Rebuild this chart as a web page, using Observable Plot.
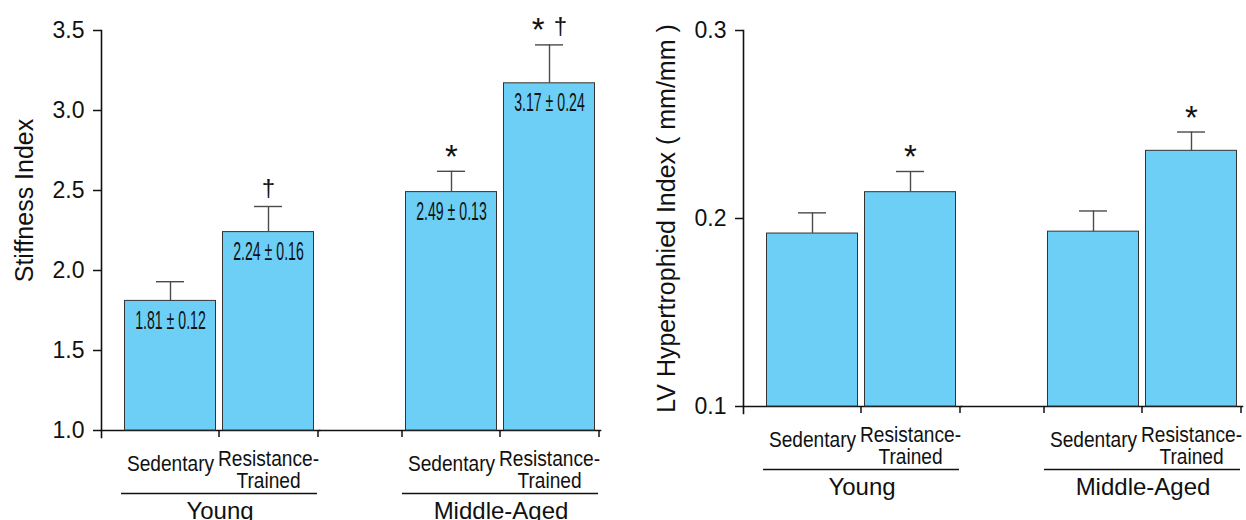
<!DOCTYPE html>
<html>
<head>
<meta charset="utf-8">
<script src="https://cdn.jsdelivr.net/npm/d3@7"></script>
<script src="https://cdn.jsdelivr.net/npm/@observablehq/plot@0.6"></script>
<style>
  html, body { margin: 0; padding: 0; background: #fff; }
  #charts { display: flex; width: 1246px; height: 520px; overflow: hidden; }
  #charts svg { flex: none; }
</style>
</head>
<body>
<div id="charts"></div>
<script>
// Groups and training conditions shared by both panels
const groups = ["Young", "Middle-Aged"];
const conditions = ["Sedentary", "Resistance-Trained"];
const conditionLabels = ["Sedentary", "Resistance-\nTrained"];

// Stiffness index: mean and SEM, listed group by group, condition by condition
const stiffnessMean = [1.81, 2.24, 2.49, 3.17];
const stiffnessSem = [0.12, 0.16, 0.13, 0.24];
const stiffnessNotes = ["", "†", "*", "* †"];
const stiffnessTicks = [1.0, 1.5, 2.0, 2.5, 3.0, 3.5];

// LV hypertrophied index (mm/mm): mean and SEM
const lvMean = [0.192, 0.214, 0.193, 0.236];
const lvSem = [0.011, 0.011, 0.011, 0.010];
const lvNotes = ["", "*", "", "*"];
const lvTicks = [0.1, 0.2, 0.3];

// Which band edges get a tick on the category axis
const axisTicks = [
  {group: "Young", condition: "Resistance-Trained", edge: "start"},
  {group: "Young", condition: "Resistance-Trained", edge: "end"},
  {group: "Middle-Aged", condition: "Sedentary", edge: "start"},
  {group: "Middle-Aged", condition: "Resistance-Trained", edge: "start"},
  {group: "Middle-Aged", condition: "Resistance-Trained", edge: "end"}
];

const SVG_NS = "http://www.w3.org/2000/svg";
const halfStep = 49.5;   // half of one condition band
const facetGap = 63;     // space between the two group facets

function panel({mean, sem, notes, ticks, title, titleDy, showValues, marginLeft, marginRight, marginBottom}) {
  const rows = [];
  groups.forEach((group, gi) => conditions.forEach((condition, ci) => {
    const i = gi * conditions.length + ci;
    rows.push({group, condition, mean: mean[i], sem: sem[i], note: notes[i],
               label: conditionLabels[ci]});
  }));
  const groupRows = groups.map((group) => ({group}));
  const yMin = ticks[0];
  const yMax = ticks[ticks.length - 1];
  const conditionDy = {"Sedentary": 25, "Resistance-Trained": 19.5};

  const marks = [
    Plot.axisY({ticks, tickFormat: ".1f", tickSize: 8, tickPadding: 9, fontSize: 23, strokeWidth: 1.5, label: null}),
    Plot.frame({anchor: "left", facetAnchor: "left", insetBottom: -7, strokeWidth: 1.6}),
    Plot.frame({anchor: "bottom", facetAnchor: "left", strokeWidth: 1.6}),
    Plot.frame({anchor: "bottom", facetAnchor: "right", insetLeft: -facetGap, strokeWidth: 1.6}),
    Plot.ruleX(axisTicks.filter((d) => d.edge === "start"),
      {fx: "group", x: "condition", y1: yMin, y2: yMin, insetBottom: -7, dx: -halfStep, strokeWidth: 1.5}),
    Plot.ruleX(axisTicks.filter((d) => d.edge === "end"),
      {fx: "group", x: "condition", y1: yMin, y2: yMin, insetBottom: -7, dx: halfStep, strokeWidth: 1.5}),
    Plot.barY(rows, {fx: "group", x: "condition", y1: yMin, y2: "mean",
      fill: "#6dcff6", stroke: "#333", strokeWidth: 1, insetLeft: 3.5, insetRight: 3.5}),
    Plot.ruleX(rows, {fx: "group", x: "condition", y1: "mean", y2: (d) => d.mean + d.sem,
      stroke: "#4a4a4a", strokeWidth: 1.4}),
    Plot.tickY(rows, {fx: "group", x: "condition", y: (d) => d.mean + d.sem,
      stroke: "#4a4a4a", strokeWidth: 1.4, insetLeft: 35, insetRight: 35}),
    Plot.text(rows.filter((d) => d.note), {fx: "group", x: "condition", y: (d) => d.mean + d.sem,
      text: "note", dy: -10.5, lineAnchor: "bottom", fontSize: 24, ariaDescription: "significance"}),
    ...conditions.map((c) => Plot.text(rows.filter((d) => d.condition === c), {
      fx: "group", x: "condition", y: yMin, text: "label", dy: conditionDy[c],
      lineAnchor: "top", lineHeight: 1, fontSize: 22, ariaDescription: "condition labels"})),
    Plot.ruleY(groupRows, {fx: "group", x1: () => conditions[0], x2: () => conditions[1],
      y: yMin, dy: 63, strokeWidth: 1.6}),
    Plot.text(groupRows, {fx: "group", x: () => conditions[1], dx: -halfStep + 1, y: yMin, dy: 71,
      text: "group", lineAnchor: "top", fontSize: 24}),
    Plot.text([{group: groups[0], title}], {fx: "group", text: "title", frameAnchor: "left",
      textAnchor: "middle", rotate: -90, dx: -77, dy: titleDy, fontSize: 25})
  ];
  if (showValues) {
    marks.push(Plot.text(rows, {fx: "group", x: "condition", y: "mean", dy: 20,
      text: (d) => `${d.mean.toFixed(2)} ± ${d.sem.toFixed(2)}`,
      fontSize: 25, fill: "#111", ariaDescription: "value labels"}));
  }

  const svg = Plot.plot({
    width: 623, height: 520,
    marginTop: 30, marginLeft, marginRight, marginBottom,
    style: {fontFamily: "'Liberation Sans', Arial, sans-serif", fontSize: "23px", color: "#111", background: "white"},
    fx: {domain: groups, paddingInner: 0.2234, paddingOuter: 0, axis: null},
    x: {domain: conditions, paddingInner: 0, paddingOuter: 0.106, align: 0.905, axis: null},
    y: {domain: [yMin, yMax]},
    marks
  });

  squeeze(svg, "condition labels", 0.87);
  squeeze(svg, "value labels", 0.565);
  enlargeStars(svg);
  return svg;
}

// Condensed lettering: narrow the glyphs around each label's own anchor
function squeeze(svg, description, k) {
  svg.querySelectorAll(`g[aria-description="${description}"] text`).forEach((t) => {
    t.setAttribute("transform", `${t.getAttribute("transform") || ""} scale(${k},1)`);
  });
}

// Asterisks are set larger and lower than the daggers next to them
function enlargeStars(svg) {
  svg.querySelectorAll('g[aria-description="significance"] text').forEach((t) => {
    const parts = t.textContent.split(/(\*\s*)/).filter(Boolean);
    t.textContent = "";
    let shifted = false;
    for (const part of parts) {
      const span = document.createElementNS(SVG_NS, "tspan");
      span.textContent = part;
      if (part.startsWith("*")) {
        span.setAttribute("font-size", 33);
        span.setAttribute("dy", 7);
        shifted = true;
      } else if (shifted) {
        span.setAttribute("dy", -7);
        shifted = false;
      }
      t.appendChild(span);
    }
  });
}

const root = document.getElementById("charts");
root.append(
  panel({mean: stiffnessMean, sem: stiffnessSem, notes: stiffnessNotes, ticks: stiffnessTicks,
         title: "Stiffness Index", titleDy: -30, showValues: true,
         marginLeft: 100, marginRight: 22, marginBottom: 90}),
  panel({mean: lvMean, sem: lvSem, notes: lvNotes, ticks: lvTicks,
         title: "LV Hypertrophied Index ( mm/mm )", titleDy: 0, showValues: false,
         marginLeft: 119, marginRight: 3, marginBottom: 114})
);
</script>
</body>
</html>
